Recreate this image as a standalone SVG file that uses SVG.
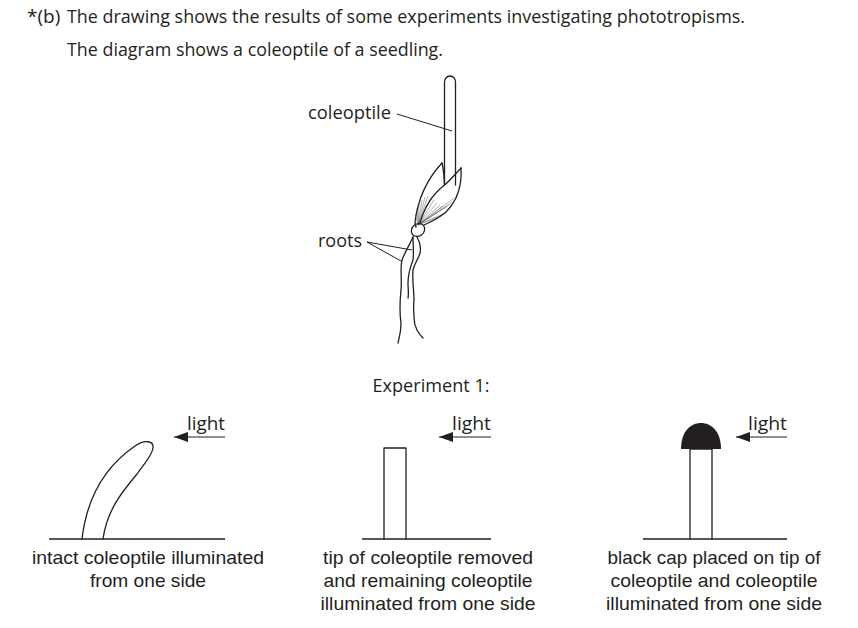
<svg xmlns="http://www.w3.org/2000/svg" width="858" height="628" viewBox="0 0 858 628">
<style>
text{font-family:"Open Sans","Liberation Sans",sans-serif;fill:#231f20;font-size:19px}
.ln{fill:none;stroke:#231f20;stroke-width:1.3;stroke-linejoin:round;stroke-linecap:round}
.thin{fill:none;stroke:#231f20;stroke-width:1}
.fine{fill:none;stroke:#666;stroke-width:0.5}
.gnd{stroke:#231f20;stroke-width:1.4}
text.cap{font-family:"Liberation Sans","Open Sans",sans-serif;font-size:19px}
</style>
<defs>
<marker id="ah" markerWidth="14" markerHeight="10" refX="14" refY="5" orient="auto" markerUnits="userSpaceOnUse">
<path d="M14,5 L0,0 L0,10 Z" fill="#231f20"/>
</marker>
</defs>
<rect width="858" height="628" fill="#fff"/>
<g id="header">
<text x="27" y="23">*(b)</text>
<text x="67" y="23" textLength="678" lengthAdjust="spacingAndGlyphs">The drawing shows the results of some experiments investigating phototropisms.</text>
<text x="67" y="56" textLength="376" lengthAdjust="spacingAndGlyphs">The diagram shows a coleoptile of a seedling.</text>
</g>
<g id="seedling">
<path class="ln" d="M444.5,185 L444.5,82 A5.5,6 0 0 1 455.5,82 L455.5,185"/>
<g class="fine">
<path d="M418,225 L417,208 M418,225 L419,204 M418,225 L422,200 M418,225 L425,197 M418,225 L428,196 M418,225 L431,198 M418,225 L434,200 M418,225 L437,203 M418,225 L440,205 M418,225 L443,206 M418,225 L446,207 M418,225 L449,205 M418,225 L452,202 M418,225 L454,198 M418,225 L447,212 M418,225 L441,216 M418,225 L415,214"/>
</g>
<path class="ln" d="M442,163 C428,178 418,198 415,222 L416,227"/>
<path class="ln" d="M442,163 C444,170 444,178 444.5,185"/>
<path class="ln" d="M461,168 C452,178 447,183 444.5,185 C433,194 424,208 420,223"/>
<path class="ln" d="M461,168 C462,185 458,200 446,212 C438,219 430,222 424,225"/>
<ellipse class="ln" cx="418" cy="230" rx="7" ry="6" transform="rotate(-35 418 230)"/>
<path class="ln" d="M413,237 C410,244 405,252 402,260 C400,268 402,280 401,290 C400,300 399,310 401,323 C401,333 399,338 398,343"/>
<path class="ln" d="M413,237 C413,245 414,254 413,260 C411,266 408,272 408,283 C408,290 409,294 408,298"/>
<path class="ln" d="M417,237 C420,242 421,248 420,253 C419,258 415,262 413,270 C412,280 414,290 414,300 C413,308 414,313 414,317 C414,324 416,328 417,330 C419,334 421,336 423,338"/>
</g>
<g id="labels-top">
<text x="308" y="119" font-size="17" textLength="83" lengthAdjust="spacingAndGlyphs">coleoptile</text>
<text x="318" y="247" font-size="17" textLength="44" lengthAdjust="spacingAndGlyphs">roots</text>
</g>
<g id="connectors">
<line class="thin" x1="397" y1="114" x2="452" y2="131"/>
<line class="thin" x1="367" y1="242" x2="412" y2="250"/>
<line class="thin" x1="367" y1="242" x2="401" y2="261"/>
<line class="thin" x1="225" y1="437" x2="174" y2="437" marker-end="url(#ah)"/>
<line class="thin" x1="491" y1="437" x2="439" y2="437" marker-end="url(#ah)"/>
<line class="thin" x1="787" y1="437" x2="736" y2="437" marker-end="url(#ah)"/>
</g>
<text x="431" y="392" text-anchor="middle" textLength="117" lengthAdjust="spacingAndGlyphs">Experiment 1:</text>
<g id="exp1">
<line class="gnd" x1="49" y1="539" x2="225" y2="539"/>
<path class="ln" d="M82,539 C86,505 100,470 135,446 C145,439 154,441 153,448 C152,456 144,464 137,474 C122,492 107,510 103,539"/>
<text x="225" y="430" text-anchor="end" textLength="38" lengthAdjust="spacingAndGlyphs">light</text>
<text class="cap" x="148" y="564" text-anchor="middle" textLength="232" lengthAdjust="spacingAndGlyphs">intact coleoptile illuminated</text>
<text class="cap" x="148" y="587" text-anchor="middle" textLength="116" lengthAdjust="spacingAndGlyphs">from one side</text>
</g>
<g id="exp2">
<line class="gnd" x1="362" y1="539" x2="491" y2="539"/>
<path class="ln" d="M384,539 L384,448 L406,448 L406,539"/>
<text x="491" y="430" text-anchor="end" textLength="39" lengthAdjust="spacingAndGlyphs">light</text>
<text class="cap" x="428" y="564" text-anchor="middle" textLength="210" lengthAdjust="spacingAndGlyphs">tip of coleoptile removed</text>
<text class="cap" x="428" y="587" text-anchor="middle" textLength="209" lengthAdjust="spacingAndGlyphs">and remaining coleoptile</text>
<text class="cap" x="428" y="610" text-anchor="middle" textLength="215" lengthAdjust="spacingAndGlyphs">illuminated from one side</text>
</g>
<g id="exp3">
<line class="gnd" x1="643" y1="539" x2="787" y2="539"/>
<path class="ln" d="M690,539 L690,449 L712,449 L712,539"/>
<path d="M681,449 C681,431 691,423 701,423 C711,423 721,431 721,449 Z" fill="#231f20"/>
<text x="787" y="430" text-anchor="end" textLength="39" lengthAdjust="spacingAndGlyphs">light</text>
<text class="cap" x="714" y="564" text-anchor="middle" textLength="213" lengthAdjust="spacingAndGlyphs">black cap placed on tip of</text>
<text class="cap" x="714" y="587" text-anchor="middle" textLength="207" lengthAdjust="spacingAndGlyphs">coleoptile and coleoptile</text>
<text class="cap" x="714" y="610" text-anchor="middle" textLength="216" lengthAdjust="spacingAndGlyphs">illuminated from one side</text>
</g>
</svg>
